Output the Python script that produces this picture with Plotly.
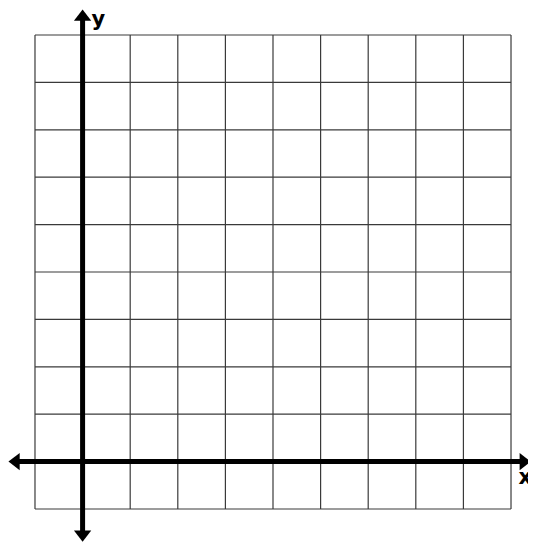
import plotly.graph_objects as go

# grid spans one unit left/below the origin up to 9 units
grid_x = list(range(-1, 10))
grid_y = list(range(-1, 10))

# axis extents (centres of the arrow heads)
x_axis_ends = [-1.40, 9.26]
y_axis_ends = [-1.53, 9.38]

axis_labels = ["x", "y"]
label_x = [9.30, 0.33]
label_y = [-0.37, 9.30]

gx, gy = [], []
for v in grid_x:
    gx += [v, v, None]
    gy += [grid_y[0], grid_y[-1], None]
for v in grid_y:
    gx += [grid_x[0], grid_x[-1], None]
    gy += [v, v, None]

fig = go.Figure()
fig.add_trace(go.Scatter(x=gx, y=gy, mode="lines",
                         line=dict(color="#3a3a3a", width=1.2),
                         hoverinfo="skip", showlegend=False))

# x axis
fig.add_trace(go.Scatter(x=x_axis_ends, y=[0, 0], mode="lines+markers",
                         line=dict(color="black", width=5),
                         marker=dict(symbol=["triangle-left", "triangle-right"],
                                     size=15, color="black"),
                         cliponaxis=False, showlegend=False))
# y axis
fig.add_trace(go.Scatter(x=[0, 0], y=y_axis_ends, mode="lines+markers",
                         line=dict(color="black", width=5),
                         marker=dict(symbol=["triangle-down", "triangle-up"],
                                     size=15, color="black"),
                         cliponaxis=False, showlegend=False))

fig.add_trace(go.Scatter(x=label_x, y=label_y, mode="text",
                         text=["<b>%s</b>" % t for t in axis_labels],
                         textfont=dict(family="DejaVu Sans", size=21, color="black"),
                         textposition="middle center", cliponaxis=False,
                         showlegend=False))

# page body has an 8px margin, so the figure is a bit smaller and the ranges start later
fig.update_layout(
    width=528, height=535,
    margin=dict(l=0, r=0, t=0, b=0),
    paper_bgcolor="white", plot_bgcolor="white",
    xaxis=dict(range=[-1.567, 9.525], visible=False, fixedrange=True),
    yaxis=dict(range=[-1.717, 9.570], visible=False, fixedrange=True),
)

fig.write_html("out.html")
